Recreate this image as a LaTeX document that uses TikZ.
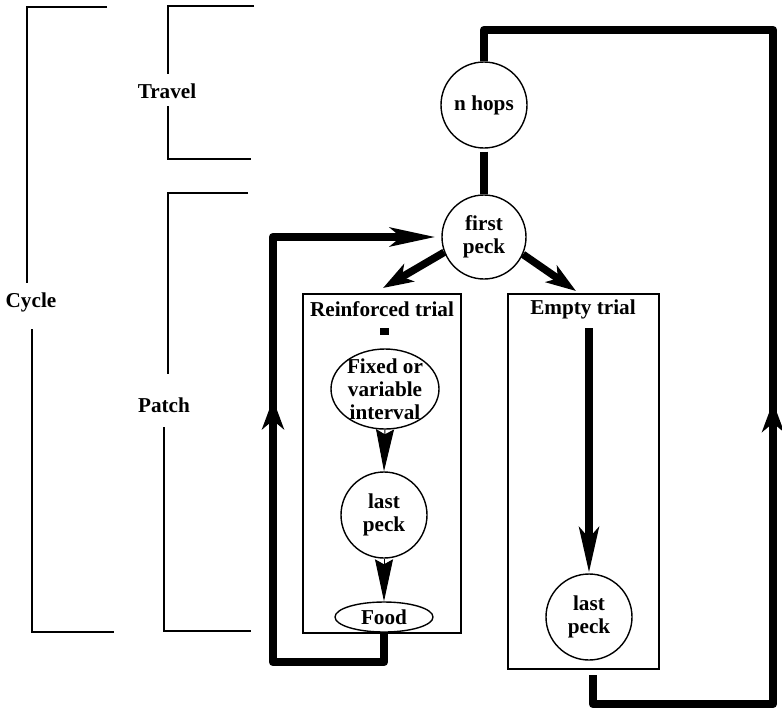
\documentclass[tikz,border=0pt]{standalone}
\usepackage{fontspec}
\setmainfont{Liberation Serif}
\usetikzlibrary{arrows.meta,shapes.geometric,decorations.markings}
\tikzset{
  lbl/.style={font=\fontsize{21.2}{23}\selectfont\bfseries, align=center, inner sep=0pt},
  circ/.style={draw, circle, line width=1.4pt, minimum size=86pt, inner sep=0pt, lbl},
  ell/.style={draw, ellipse, line width=1.4pt, inner sep=0pt},
  boxnode/.style={draw, line width=1.4pt, inner sep=0pt},
  brk/.style={line width=1.3pt},
  heavy/.style={line width=8.5pt, line join=round},
  midtip/.style={postaction={decorate}, decoration={markings,
     mark=at position #1 with {\arrow{Stealth[length=30pt,width=22pt,inset=9pt]}}}},
  wedge/.style={line width=1pt, -{Stealth[length=42pt,width=18pt,inset=5pt]}},
}
\begin{document}
\begin{tikzpicture}[x=1pt,y=-1pt]
\useasboundingbox (0,0) rectangle (782,716);
% brackets
\draw[brk] (107,7) -- (27,7) -- (27,283);
\draw[brk] (32,329) -- (32,632) -- (114,632);
\node[lbl] (cycle) at (31,302) {Cycle};
\draw[brk] (254,6) -- (168,6) -- (168,74);
\draw[brk] (168,106) -- (168,159) -- (251,159);
\node[lbl] (travel) at (167,91) {Travel};
\draw[brk] (248,193) -- (168,193) -- (168,374);
\draw[brk] (164,427) -- (164,631) -- (251,631);
\node[lbl] (patch) at (164,405) {Patch};
% boxes
\node[boxnode, minimum width=158pt, minimum height=339pt] (rbox) at (382,463.5) {};
\node[boxnode, minimum width=151pt, minimum height=375pt] (ebox) at (583.5,481.5) {};
\node[lbl] (rtitle) at (382,309) {Reinforced trial};
\node[lbl] (etitle) at (583,309) {Empty trial};
% nodes
\node[circ] (nhops) at (484,105) {n hops};
\node[circ, minimum size=84pt] (first) at (484,237) {first\\peck};
\node[ell, minimum width=108pt, minimum height=80pt] (fixed) at (385,389) {};
\node[lbl] (fixedtxt) at (fixed) {Fixed or\\variable\\interval};
\node[circ, minimum size=86pt] (last1) at (384,515) {last\\peck};
\node[ell, minimum width=98pt, minimum height=30pt] (food) at (384,617) {};
\node[lbl] (foodtxt) at (food) {Food};
\node[circ] (last2) at (589,617) {last\\peck};
% coordinates
\coordinate (ll) at (273,662);
\coordinate (rs) at (593,675);
\coordinate (rc1) at (773,704);
\coordinate (rc2) at (773,30);
\coordinate (ra) at (383,288);
\coordinate (ea) at (576,291);
\coordinate (es) at (589,328);
% connectors
\draw[heavy, shorten <=3pt] (nhops.south) -- (first.north);
\draw[heavy, midtip=403pt, -{Stealth[length=45pt,width=18pt,inset=10pt]}, shorten >=5pt]
  (food.south) |- (ll) |- (first.west);
\draw[heavy, midtip=511pt] (rs) |- (rc1) -- (rc2) -| (nhops.north);
\draw[line width=7.5pt, -{Stealth[length=30pt,width=20pt,inset=8pt]}] (first.201) -- (ra);
\draw[line width=7.5pt, -{Stealth[length=30pt,width=20pt,inset=8pt]}] (first.336) -- (ea);
\draw[heavy, -{Stealth[length=45pt,width=19pt,inset=10pt]}] (es) -- (last2.north);
\fill (380,328) rectangle (389,335);
\draw[wedge] (fixed.south) -- (last1.north);
\draw[wedge] (last1.south) -- (food.north);
\end{tikzpicture}
\end{document}
